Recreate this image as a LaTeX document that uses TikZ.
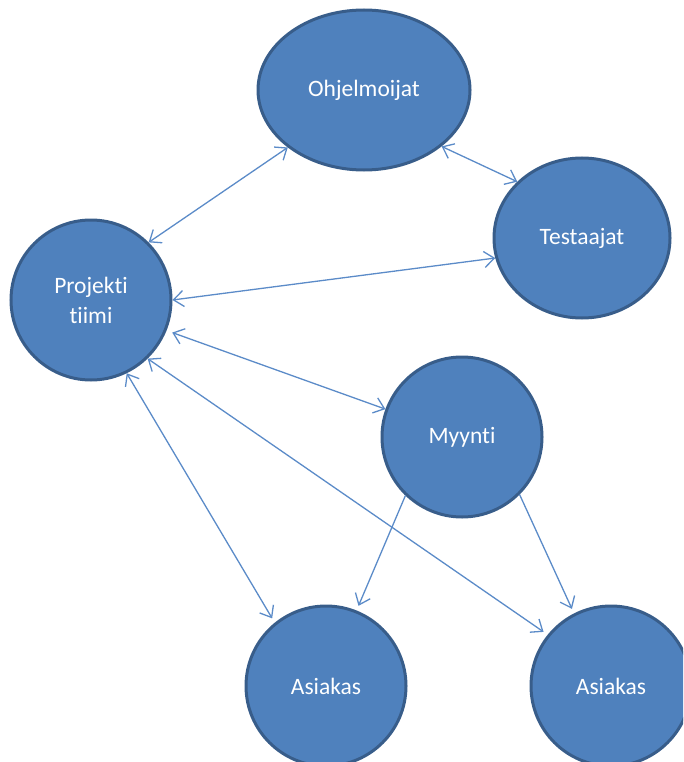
\documentclass[tikz,border=0pt]{standalone}
\usepackage{fontspec}
\setmainfont{Carlito}[Ligatures=NoCommon]
\usepackage{tikz}
\usetikzlibrary{shapes, arrows.meta, calc}
\definecolor{fillblue}{HTML}{4F81BD}
\definecolor{edgeblue}{HTML}{385D8A}
\definecolor{lineblue}{HTML}{5B8BC8}

\begin{document}
\begin{tikzpicture}[x=1pt, y=-1pt,
    ball/.style={ellipse, draw=edgeblue, fill=fillblue, line width=3pt, text=white,
      font=\fontsize{23.5}{30}\selectfont, align=center, inner sep=0pt,
      minimum width=160, minimum height=160},
    link/.style={lineblue, line width=1.3pt, >={Straight Barb[length=10pt, width=16pt]}},
    gap/.style={shorten >=5pt}]
      \useasboundingbox (0,0) rectangle (683,762);
      \clip (0,0) rectangle (683,762);

      \node[ball, minimum width=212] (ohj) at (364,90) {Ohjelmoijat};
      \node[ball, minimum width=176] (test) at (582,238) {Testaajat};
      \node[ball] (proj) at (91,300) {Projekti\\tiimi};
      \node[ball] (myy) at (462,437) {Myynti};
      \node[ball] (as1) at (326,686) {Asiakas};
      \node[ball] (as2) at (611,686) {Asiakas};

      \draw [link, <->] (proj.45) -- (ohj.217);
      \draw [link, <->] (ohj.324) -- (test.139);
      \draw [link, <->] (proj.0) -- (test.193);
      \draw [link, <->, shorten <=6pt] (proj.-22) -- (myy.160);
      \draw [link, <->, gap] (proj.-64) -- (as1.129);
      \draw [link, <->, gap] (proj.-46) -- (as2.141);
      \draw [link, ->, gap] (myy.-134) -- (as1.68);
      \draw [link, ->, gap] (myy.-45) -- (as2.117);
    \end{tikzpicture}
\end{document}
